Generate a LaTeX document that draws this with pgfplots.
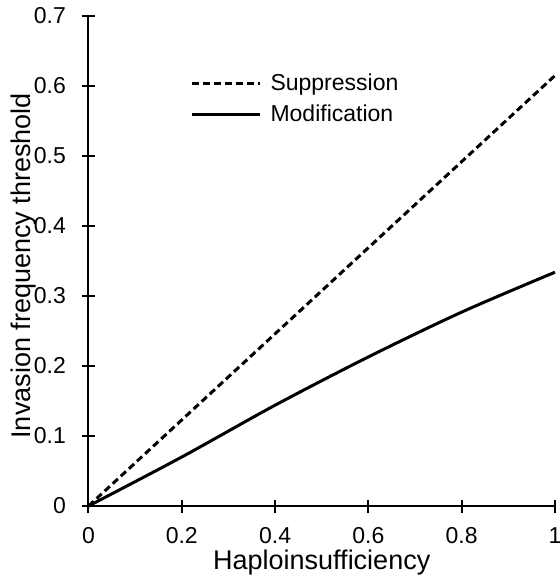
\documentclass[border=0pt]{standalone}
\usepackage{pgfplots}
\pgfplotsset{compat=1.18}
\usepackage{fontspec}
\setmainfont{Liberation Sans}

\begin{document}
\begin{tikzpicture}
  % fixed page box, 1px of the reference = 0.5pt
  \useasboundingbox (-44.25pt,-34.5pt) rectangle (235.25pt,253pt);
  \begin{axis}[
      at={(0,0)}, anchor=south west,
      scale only axis,
      width=233.25pt, height=245pt,
      xmin=0, xmax=1, ymin=0, ymax=0.7,
      axis x line*=bottom,
      axis y line*=left,
      axis line style={-, line width=1pt},
      xtick={0,0.2,...,1.0},
      ytick={0,0.1,...,0.7},
      tick align=center,
      major tick length=6.5pt,
      every tick/.style={black, line width=1pt},
      tick label style={font=\fontsize{11.5}{13.8}\selectfont},
      yticklabel style={xshift=-4.5pt},
      xticklabel style={yshift=-4pt},
      /pgf/number format/assume math mode=true,
      every axis x label/.style={at={(axis description cs:0.5,-0.116)}, anchor=center},
      every axis y label/.style={at={(axis description cs:-0.14,0.49)}, anchor=center, rotate=90},
      label style={font=\fontsize{13.5}{16}\selectfont},
      xlabel={Haploinsufficiency},
      ylabel={Invasion frequency threshold},
      clip=false,
      legend style={
          draw=none, fill=none,
          at={(axis cs:0.205,0.63)}, anchor=north west,
          font=\fontsize{11.5}{13.8}\selectfont,
          row sep=2pt,
          /tikz/every odd column/.append style={column sep=2.5pt},
          nodes={inner sep=2pt}
      },
      legend cell align=left,
      legend image code/.code={\draw[#1] (0pt,0pt) -- (34pt,0pt);},
    ]
    % Suppression
    \addplot[black, line width=1.5pt, dash pattern=on 3.5pt off 2pt] coordinates {
      (0,0) (1,0.615)
    };
    % Modification
    \addplot[black, line width=1.5pt, smooth] coordinates {
      (0,0) (0.2,0.070) (0.4,0.144) (0.6,0.213) (0.8,0.277) (1,0.334)
    };
    \legend{Suppression, Modification}
  \end{axis}
\end{tikzpicture}
\end{document}
